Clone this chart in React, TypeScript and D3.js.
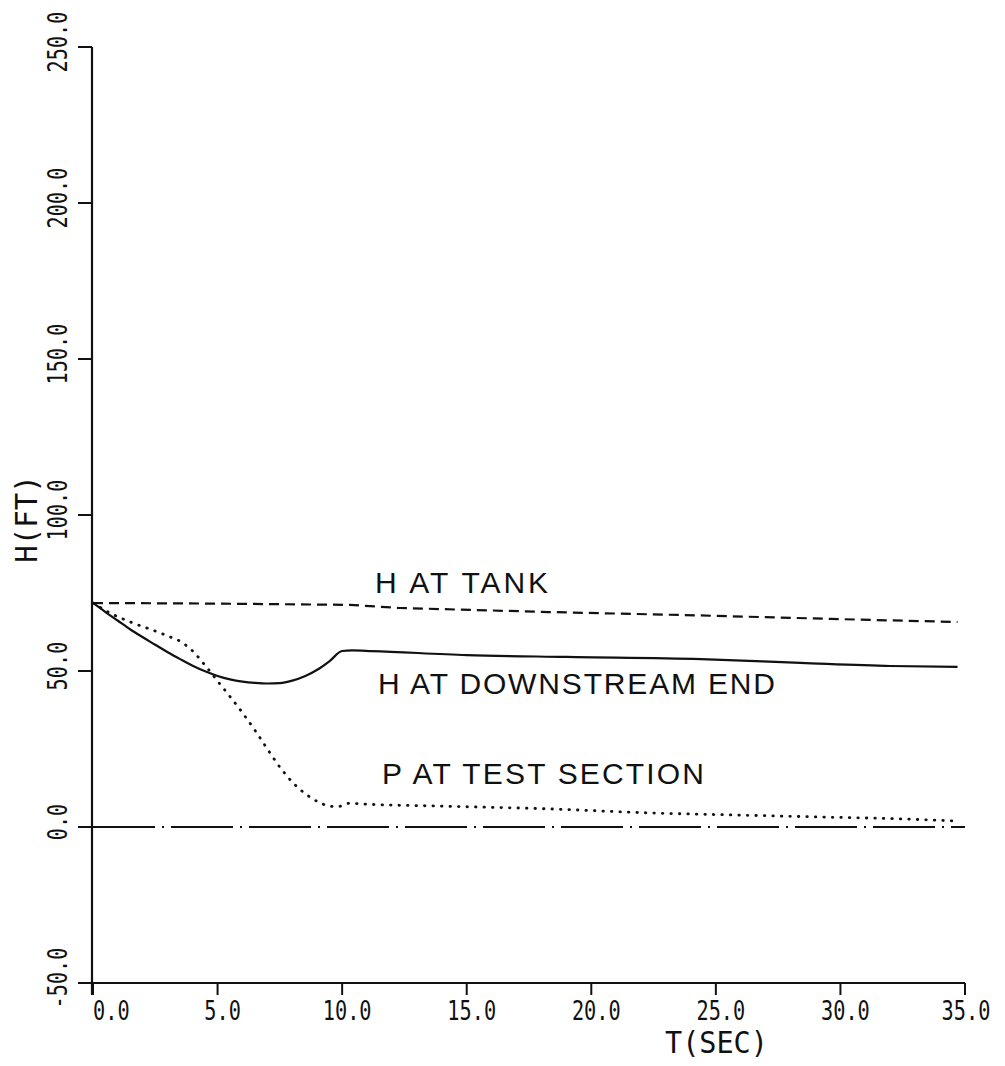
import React from "react";
import * as d3 from "d3";

// time axis ticks (sec)
const tTicks = [0, 5, 10, 15, 20, 25, 30, 35];
const tTickLabels = ["0.0", "5.0", "10.0", "15.0", "20.0", "25.0", "30.0", "35.0"];
// head axis ticks (ft)
const hTicks = [-50, 0, 50, 100, 150, 200, 250];
const hTickLabels = ["-50.0", "0.0", "50.0", "100.0", "150.0", "200.0", "250.0"];

// H at tank (dashed)
const tankT = [0, 5, 10.3, 12.3, 18.3, 24.4, 29.6, 34.7];
const tankH = [71.8, 71.6, 71.2, 70.2, 68.9, 67.8, 66.7, 65.7];

// H at downstream end (solid)
const downT = [0, 0.5, 1, 1.5, 2, 2.5, 3, 3.5, 4, 4.5, 5, 5.5, 6, 6.5, 7, 7.5, 8, 8.5, 9, 9.5, 10, 10.4, 11.2, 15.0, 19.0, 24.4, 28.4, 32.0, 34.7];
const downH = [71.8, 68.9, 66.1, 63.3, 60.8, 58.4, 56.0, 53.8, 51.7, 49.9, 48.4, 47.3, 46.6, 46.2, 46.0, 46.1, 46.9, 48.3, 50.4, 53.2, 56.4, 56.6, 56.4, 55.1, 54.5, 53.8, 52.6, 51.6, 51.3];

// P at test section (dotted)
const testT = [0, 0.68, 1.6, 2.7, 3.0, 3.5, 4.0, 4.5, 5.0, 5.5, 6.0, 6.5, 7.0, 7.5, 8.0, 8.5, 9.0, 9.5, 9.8, 10.3, 11.0, 13.9, 18.3, 22.4, 26.0, 29.2, 32.4, 34.7];
const testH = [71.8, 68.6, 65.4, 62.2, 61.2, 59.5, 56.4, 51.8, 46.8, 41.8, 36.6, 31.0, 25.0, 19.2, 14.4, 10.8, 8.2, 6.7, 6.5, 7.6, 7.3, 6.7, 5.8, 4.5, 3.8, 3.2, 2.6, 1.9];

// zero reference (dash-dot)
const zeroT = [0, 35];
const zeroH = [0, 0];

const seriesLabels = ["H AT TANK", "H AT DOWNSTREAM END", "P AT TEST SECTION"];

const W = 1005;
const H = 1066;

export default function App() {
  const x = d3.scaleLinear().domain([0, 35]).range([93, 965]);
  const y = d3.scaleLinear().domain([-50, 250]).range([983, 47]);

  const line = (ts: number[], hs: number[], curve: d3.CurveFactory = d3.curveLinear) =>
    d3
      .line<number>()
      .curve(curve)
      .x((_, i) => x(ts[i]))
      .y((_, i) => y(hs[i]))(ts) || "";

  const monoFont = "'DejaVu Sans Mono', monospace";
  const sansFont = "'Liberation Sans', Arial, sans-serif";
  const axisX = x(0) - 1;
  const axisY = y(-50);
  // plotter lettering is narrower than DejaVu Mono
  const squeeze = 0.75;

  // label placement (left x, baseline y, rendered length)
  const labelPos = [
    { x: 375, y: 593, len: 173 },
    { x: 378, y: 694, len: 397 },
    { x: 382, y: 784, len: 322 },
  ];

  return (
    <svg
      width={W}
      height={H}
      viewBox={`0 0 ${W} ${H}`}
      style={{ position: "absolute", left: 0, top: 0, background: "#fff" }}
    >
      <rect width={W} height={H} fill="#fff" />

      {/* axes */}
      <line x1={axisX} y1={y(250)} x2={axisX} y2={axisY + 12} stroke="#111" strokeWidth={2.2} />
      <line x1={axisX - 14} y1={axisY} x2={x(35)} y2={axisY} stroke="#111" strokeWidth={2.2} />

      {hTicks.map((h, i) => (
        <g key={"h" + h}>
          <line x1={axisX - 14} y1={y(h)} x2={axisX} y2={y(h)} stroke="#111" strokeWidth={2} />
          <text
            transform={`translate(67,${y(h) - 5}) rotate(-90) scale(${squeeze},1)`}
            textAnchor="middle"
            fontFamily={monoFont}
            fontSize={27}
            fill="#111"
          >
            {hTickLabels[i]}
          </text>
        </g>
      ))}

      {tTicks.map((t, i) => (
        <g key={"t" + t}>
          <line x1={x(t)} y1={axisY} x2={x(t)} y2={axisY + 12} stroke="#111" strokeWidth={2} />
          <text
            transform={`translate(${i === 0 ? x(t) : i === tTicks.length - 1 ? x(t) + 1 : x(t) + 5},1020) scale(${squeeze},1)`}
            textAnchor={i === 0 ? "start" : "middle"}
            fontFamily={monoFont}
            fontSize={27}
            fill="#111"
          >
            {tTickLabels[i]}
          </text>
        </g>
      ))}

      {/* axis titles */}
      <text
        transform="translate(665,1053) scale(0.95,1)"
        fontFamily={monoFont}
        fontSize={30}
        fill="#111"
      >
        T(SEC)
      </text>
      <text
        transform="translate(37,519) rotate(-90) scale(0.97,1)"
        textAnchor="middle"
        fontFamily={monoFont}
        fontSize={30}
        fill="#111"
      >
        H(FT)
      </text>

      {/* series */}
      <path d={line(zeroT, zeroH)} fill="none" stroke="#111" strokeWidth={2} strokeDasharray="62,7,2,7" />
      <path d={line(tankT, tankH)} fill="none" stroke="#111" strokeWidth={2.2} strokeDasharray="10,6" />
      <path d={line(downT, downH, d3.curveMonotoneX)} fill="none" stroke="#111" strokeWidth={2.2} />
      <path
        d={line(testT, testH, d3.curveMonotoneX)}
        fill="none"
        stroke="#111"
        strokeWidth={2.8}
        strokeDasharray="0.5,8"
        strokeLinecap="round"
      />

      {seriesLabels.map((s, i) => (
        <text
          key={s}
          x={labelPos[i].x}
          y={labelPos[i].y}
          fontFamily={sansFont}
          fontSize={30}
          textLength={labelPos[i].len}
          lengthAdjust="spacing"
          fill="#111"
        >
          {s}
        </text>
      ))}
    </svg>
  );
}
